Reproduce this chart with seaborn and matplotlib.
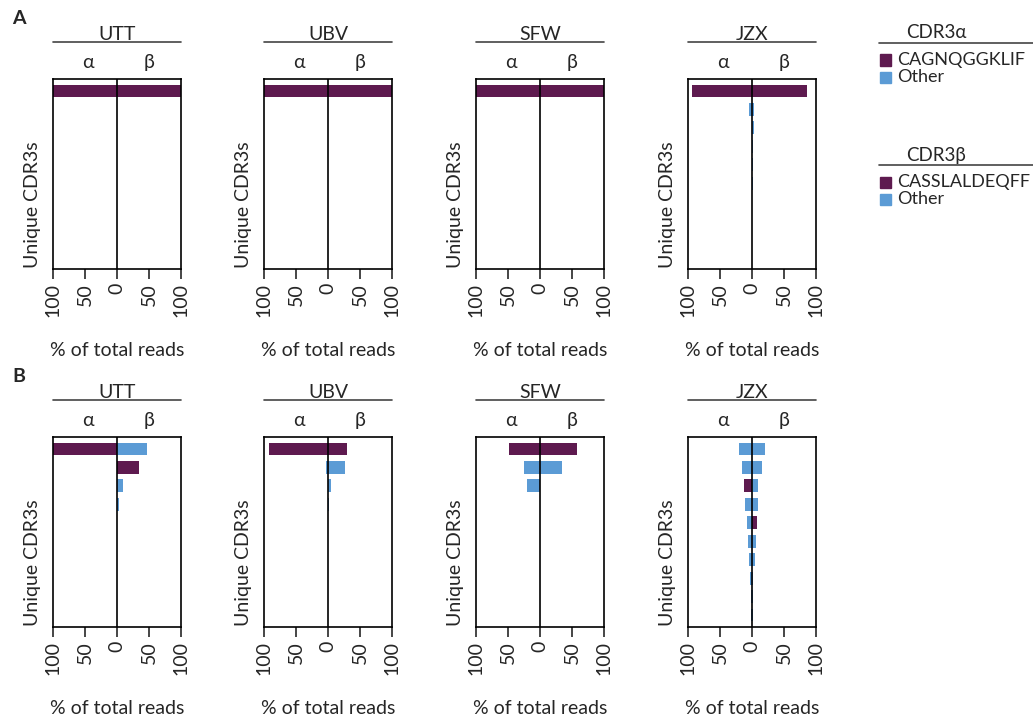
import numpy as np
import pandas as pd
import matplotlib
matplotlib.use("Agg")
import matplotlib.pyplot as plt
from matplotlib.lines import Line2D
from matplotlib.patches import Rectangle
import seaborn as sns

sns.set_style("white")
plt.rcParams['font.family'] = ['Lato', 'DejaVu Sans']
plt.rcParams['font.size'] = 14

subjects = ["UTT", "UBV", "SFW", "JZX"]
tick_pos = [-100, -50, 0, 50, 100]
tick_labels = ["100", "50", "0", "50", "100"]

# % of total reads per unique CDR3 (ranked), panel A
alpha_A = {"UTT": [100], "UBV": [100], "SFW": [100], "JZX": [94, 5]}
beta_A = {"UTT": [100], "UBV": [100], "SFW": [100], "JZX": [86, 3, 2.5, 1, 1, 1]}
# rank of the dominant clonotype (CAGNQGGKLIF / CASSLALDEQFF)
dom_alpha_A = {"UTT": 0, "UBV": 0, "SFW": 0, "JZX": 0}
dom_beta_A = {"UTT": 0, "UBV": 0, "SFW": 0, "JZX": 0}

# panel B
alpha_B = {"UTT": [100], "UBV": [92, 3], "SFW": [49, 25, 20],
           "JZX": [20, 16, 12, 11, 8, 7, 4, 2.5, 2, 2]}
beta_B = {"UTT": [47, 34, 10, 3], "UBV": [30, 26, 5, 1.5], "SFW": [58, 35],
          "JZX": [20, 15, 10, 9, 8, 7, 4, 1, 1, 1]}
dom_alpha_B = {"UTT": 0, "UBV": 0, "SFW": 0, "JZX": 2}
dom_beta_B = {"UTT": 1, "UBV": 0, "SFW": 0, "JZX": 4}

purple = "#5E1A4F"
blue = "#5B9BD5"
palette = {"a_dom": purple, "a_other": blue, "b_dom": purple, "b_other": blue}


def build_df(alpha, beta, dom_a, dom_b):
    rows = []
    for s in subjects:
        for i, v in enumerate(alpha[s]):
            rows.append((s, i, -v, "a_dom" if i == dom_a[s] else "a_other"))
        for i, v in enumerate(beta[s]):
            rows.append((s, i, v, "b_dom" if i == dom_b[s] else "b_other"))
    return pd.DataFrame(rows, columns=["subject", "rank", "pct", "clone"])


panels = {"A": build_df(alpha_A, beta_A, dom_alpha_A, dom_beta_A),
          "B": build_df(alpha_B, beta_B, dom_alpha_B, dom_beta_B)}

W, H = 1033, 719
fig = plt.figure(figsize=(W / 100, H / 100), dpi=100)

x_lefts = [53, 264, 476, 688]
ax_w = 128
tops = {"A": 79, "B": 437}
ax_h = 190

for p, df in panels.items():
    top = tops[p]
    fig.text(12 / W, 1 - (top - 61) / H, p, fontsize=14, fontweight="bold",
             ha="left", va="center")
    for s, xl in zip(subjects, x_lefts):
        ax = fig.add_axes([xl / W, 1 - (top + ax_h) / H, ax_w / W, ax_h / H])
        sub = df[df["subject"] == s]
        sns.barplot(data=sub, x="pct", y="rank", hue="clone", order=list(range(10)),
                    hue_order=["a_dom", "a_other", "b_dom", "b_other"],
                    palette=palette, orient="h", dodge=False, width=0.7,
                    errorbar=None, saturation=1, linewidth=0, legend=False, ax=ax)
        ax.axvline(0, color="black", lw=1.2, zorder=5)
        ax.set_xlim(-100, 100)
        ax.set_ylim(9.65, -0.65)
        ax.set_yticks([])
        ax.set_xticks(tick_pos)
        ax.set_xticklabels(tick_labels, rotation=90)
        ax.tick_params(axis="x", direction="out", length=7, width=1.2,
                       bottom=True, pad=3, labelsize=14)
        for sp in ax.spines.values():
            sp.set_color("black")
            sp.set_linewidth(1.2)
        ax.set_xlabel("% of total reads", fontsize=14)
        ax.xaxis.set_label_coords(0.5, -0.385)
        ax.set_ylabel("Unique CDR3s", fontsize=14)
        ax.yaxis.set_label_coords(-0.09, 0.34)
        # header: subject name, rule, chain labels
        cx = (xl + ax_w / 2) / W
        fig.text(cx, 1 - (top - 45) / H, s, ha="center", va="center", fontsize=14)
        fig.add_artist(Line2D([xl / W, (xl + ax_w) / W],
                              [1 - (top - 37) / H] * 2, color="#444444", lw=1.2))
        ax.text(-45, 1.085, "α", transform=ax.get_xaxis_transform(),
                ha="center", va="center", fontsize=14)
        ax.text(50, 1.085, "β", transform=ax.get_xaxis_transform(),
                ha="center", va="center", fontsize=14)

# legend
legend_groups = [("CDR3α", ["CAGNQGGKLIF", "Other"], 33),
                 ("CDR3β", ["CASSLALDEQFF", "Other"], 155)]
for title, labels, ty in legend_groups:
    fig.text(906 / W, 1 - ty / H, title, ha="left", va="center", fontsize=13.5)
    fig.add_artist(Line2D([879 / W, 1.0], [1 - (ty + 10) / H] * 2,
                          color="#444444", lw=1.2))
    for k, (lab, col) in enumerate(zip(labels, [purple, blue])):
        yc = ty + 27 + k * 17.5
        fig.add_artist(Rectangle((880 / W, 1 - (yc + 5.5) / H), 11 / W, 11 / H,
                                 color=col, transform=fig.transFigure))
        fig.text(897 / W, 1 - yc / H, lab, ha="left", va="center", fontsize=13)

fig.savefig("out.png", dpi=100)
